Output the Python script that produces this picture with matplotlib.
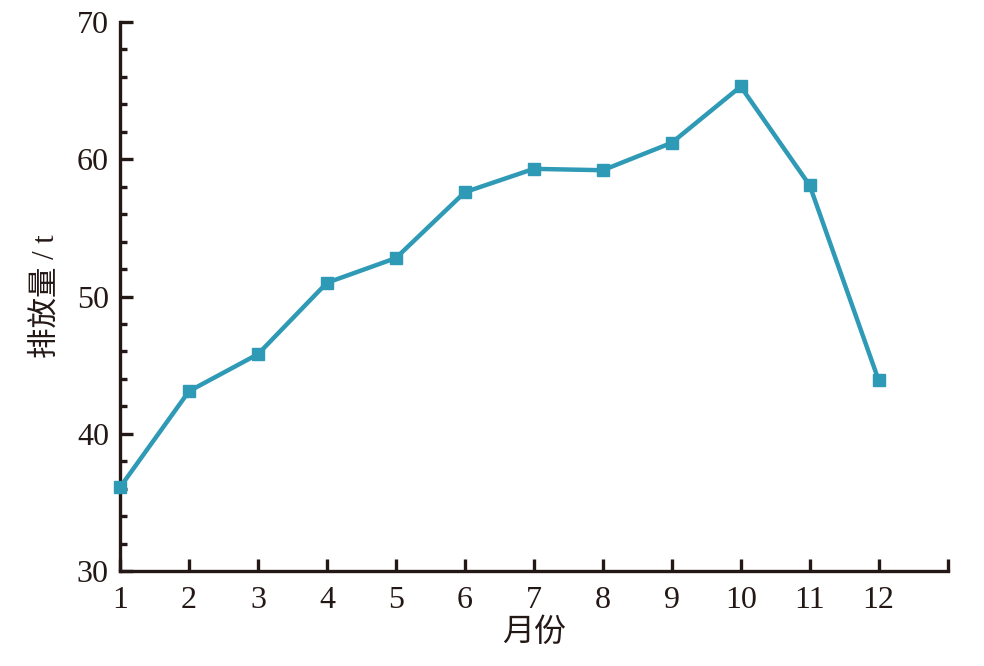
import matplotlib
matplotlib.use("Agg")
import matplotlib.pyplot as plt
from matplotlib.ticker import MultipleLocator

plt.rcParams['font.family'] = ['Liberation Serif', 'Noto Sans CJK SC']

# 月份与排放量
months = [1, 2, 3, 4, 5, 6, 7, 8, 9, 10, 11, 12]
emission = [36.1, 43.1, 45.8, 51.0, 52.8, 57.6, 59.3, 59.2, 61.2, 65.3, 58.1, 43.9]
xticks = list(range(1, 14))
xticklabels = [str(m) for m in months] + [""]

fig = plt.figure(figsize=(9.84, 6.66), dpi=100)
ax = fig.add_axes([0.122, 0.1426, 0.841, 0.8244])

ax.plot(months, emission, color="#2E9AB6", lw=3.2, marker="s", ms=8.5,
        clip_on=False, zorder=3)

ax.set_xlim(1, 13)
ax.set_ylim(30, 70)
ax.set_xticks(xticks)
ax.set_xticklabels(xticklabels)
ax.yaxis.set_major_locator(MultipleLocator(10))
ax.yaxis.set_minor_locator(MultipleLocator(2))

for s in ["top", "right"]:
    ax.spines[s].set_visible(False)
for s in ["left", "bottom"]:
    ax.spines[s].set_linewidth(2.4)
    ax.spines[s].set_color("#231815")

ax.tick_params(which="major", direction="in", length=9, width=2.4,
               color="#231815", labelsize=23, labelcolor="#231815")
ax.tick_params(which="minor", direction="in", length=5, width=2.4,
               color="#231815")
ax.tick_params(axis="x", pad=11)
ax.tick_params(axis="y", pad=8)

ax.set_xlabel("月份", fontsize=23, color="#231815", labelpad=2)
ax.set_ylabel("排放量 / t", fontsize=22, color="#231815", labelpad=12)

fig.savefig("out.png", dpi=100)
